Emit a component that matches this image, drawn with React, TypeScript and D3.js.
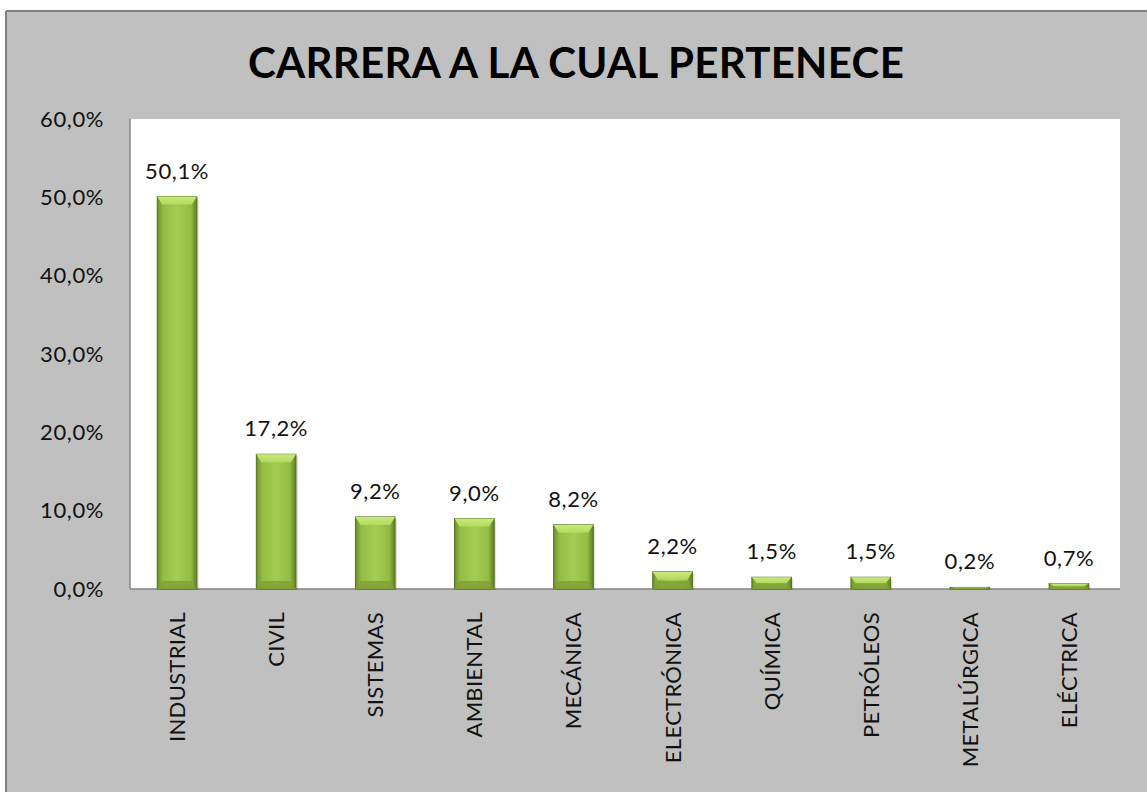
import React from "react";
import * as d3 from "d3";

const categories = ["INDUSTRIAL", "CIVIL", "SISTEMAS", "AMBIENTAL", "MECÁNICA", "ELECTRÓNICA", "QUÍMICA", "PETRÓLEOS", "METALÚRGICA", "ELÉCTRICA"];
const values = [50.1, 17.2, 9.2, 9.0, 8.2, 2.2, 1.5, 1.5, 0.2, 0.7];
const valueLabels = ["50,1%", "17,2%", "9,2%", "9,0%", "8,2%", "2,2%", "1,5%", "1,5%", "0,2%", "0,7%"];
const yTicks = [0, 10, 20, 30, 40, 50, 60];
const yTickLabels = ["0,0%", "10,0%", "20,0%", "30,0%", "40,0%", "50,0%", "60,0%"];
const title = "CARRERA A LA CUAL PERTENECE";

const W = 1147, H = 792;
const plot = { left: 130, top: 119, right: 1120, bottom: 589 };
const font = "Lato, 'Open Sans', sans-serif";

export default function App() {
  const x = d3.scaleBand<string>().domain(categories).range([127.5, 1118.5]).paddingInner(0.6).paddingOuter(0.3);
  const y = d3.scaleLinear().domain([0, 60]).range([plot.bottom, plot.top]);
  const bw = x.bandwidth();
  return (
    <svg width={W} height={H} style={{ position: "absolute", left: 0, top: 0 }}>
      <defs>
        <linearGradient id="barG" x1="0" x2="1" y1="0" y2="0">
          <stop offset="0" stopColor="#6f8f2c" />
          <stop offset="0.15" stopColor="#93bd44" />
          <stop offset="0.5" stopColor="#a3cd52" />
          <stop offset="0.85" stopColor="#93bd44" />
          <stop offset="1" stopColor="#5f7c24" />
        </linearGradient>
        <linearGradient id="topG" x1="0" x2="0" y1="0" y2="1">
          <stop offset="0" stopColor="#c9ea7c" />
          <stop offset="1" stopColor="#b2d95e" />
        </linearGradient>
      </defs>
      <rect x={0} y={0} width={W} height={H} fill="#ffffff" />
      <rect x={6} y={11} width={W} height={H} fill="#c0c0c0" />
      <line x1={6} y1={11} x2={W} y2={11} stroke="#808080" strokeWidth={2} />
      <line x1={6} y1={11} x2={6} y2={H} stroke="#808080" strokeWidth={2} />
      <text x={576} y={78} textAnchor="middle" fontFamily={font} fontWeight="bold" fontSize={42} letterSpacing={0.3} fill="#000">{title}</text>
      <rect x={plot.left} y={plot.top} width={plot.right - plot.left} height={plot.bottom - plot.top} fill="#ffffff" />
      <line x1={plot.left} y1={plot.top} x2={plot.left} y2={plot.bottom} stroke="#868686" strokeWidth={1.5} />
      <line x1={plot.left} y1={plot.bottom} x2={plot.right} y2={plot.bottom} stroke="#868686" strokeWidth={1.5} />
      {yTicks.map((t, i) => (
        <text key={t} x={104} y={y(t)} dy="0.35em" textAnchor="end" fontFamily={font} fontSize={22} letterSpacing={0.6} fill="#111">{yTickLabels[i]}</text>
      ))}
      {categories.map((c, i) => {
        const x0 = x(c)!;
        const yt = y(values[i]);
        const h = plot.bottom - yt;
        const bev = Math.min(8, h / 2);
        return (
          <g key={c}>
            <rect x={x0 + 2} y={yt + 2} width={bw} height={h - 1} fill="#000" opacity={0.12} />
            <rect x={x0} y={yt} width={bw} height={h} fill="url(#barG)" stroke="#56731f" strokeWidth={1} />
            <path d={`M${x0},${yt}L${x0 + bw},${yt}L${x0 + bw - 5},${yt + bev}L${x0 + 5},${yt + bev}Z`} fill="url(#topG)" />
            <path d={`M${x0},${plot.bottom}L${x0 + bw},${plot.bottom}L${x0 + bw - 5},${plot.bottom - bev}L${x0 + 5},${plot.bottom - bev}Z`} fill="#7f9f36" opacity={0.8} />
            <text x={x0 + bw / 2} y={yt - 18} textAnchor="middle" fontFamily={font} fontSize={22} letterSpacing={0.6} fill="#111">{valueLabels[i]}</text>
            <text transform={`translate(${x0 + bw / 2 + 8},612) rotate(-90)`} textAnchor="end" fontFamily={font} fontSize={22} letterSpacing={0.3} fill="#111">{c}</text>
          </g>
        );
      })}
    </svg>
  );
}
